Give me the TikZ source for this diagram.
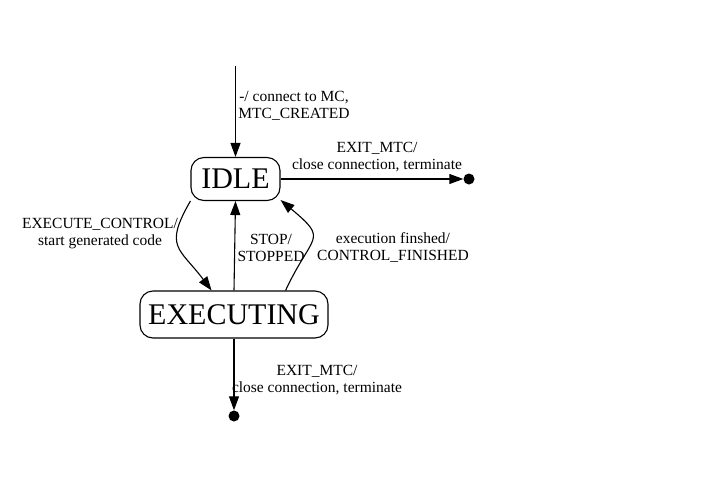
\documentclass[tikz,border=0pt]{standalone}
\usepackage{fontspec}
\setmainfont{Liberation Serif}
\usetikzlibrary{arrows.meta}

\begin{document}
\begin{tikzpicture}[x=1pt, y=1pt,
  state/.style={draw, rounded corners=13pt, line width=1.1pt, inner sep=0pt,
                font=\fontsize{30}{32}\selectfont},
  lbl/.style={align=center, inner sep=0pt, font=\fontsize{15.5}{17}\selectfont},
  final/.style={circle, fill, inner sep=0pt, minimum size=11pt},
  flow/.style={-{Triangle[length=14pt, width=10pt]}, line width=1.1pt},
]
\useasboundingbox (0,0) rectangle (713,-488);

\node[state, minimum width=89pt, minimum height=43pt] (idle) at (235.5,-179) {IDLE};
\node[state, minimum width=188pt, minimum height=47pt] (exec) at (234,-314.5) {EXECUTING};
\coordinate (init) at (235.5,-66);
\node[final] (done1) at (469,-179) {};
\node[final] (done2) at (234,-416) {};

\node[lbl] (lInit) at (294,-106) {-/ connect to MC,\\MTC\_CREATED};
\node[lbl] (lExit1) at (377,-157) {EXIT\_MTC/\\close connection, terminate};
\node[lbl] (lExec) at (100,-234) {EXECUTE\_CONTROL/\\start generated code};
\node[lbl] (lStop) at (271,-248) {STOP/\\STOPPED};
\node[lbl] (lFin) at (393,-248) {execution finshed/\\CONTROL\_FINISHED};
\node[lbl] (lExit2) at (317,-380) {EXIT\_MTC/\\close connection, terminate};

\draw[flow] (init) -- (idle.north);
\draw[flow] (idle) -- (done1);
\draw[flow] (idle.-154) to[out=-120, in=127, looseness=1.5] (exec.133);
\draw[flow] (exec.north) -- (idle.south);
\draw[flow] (exec.25) to[out=65, in=-40, looseness=1.8] (idle.-25);
\draw[flow] (exec) -- (done2);
\end{tikzpicture}
\end{document}
